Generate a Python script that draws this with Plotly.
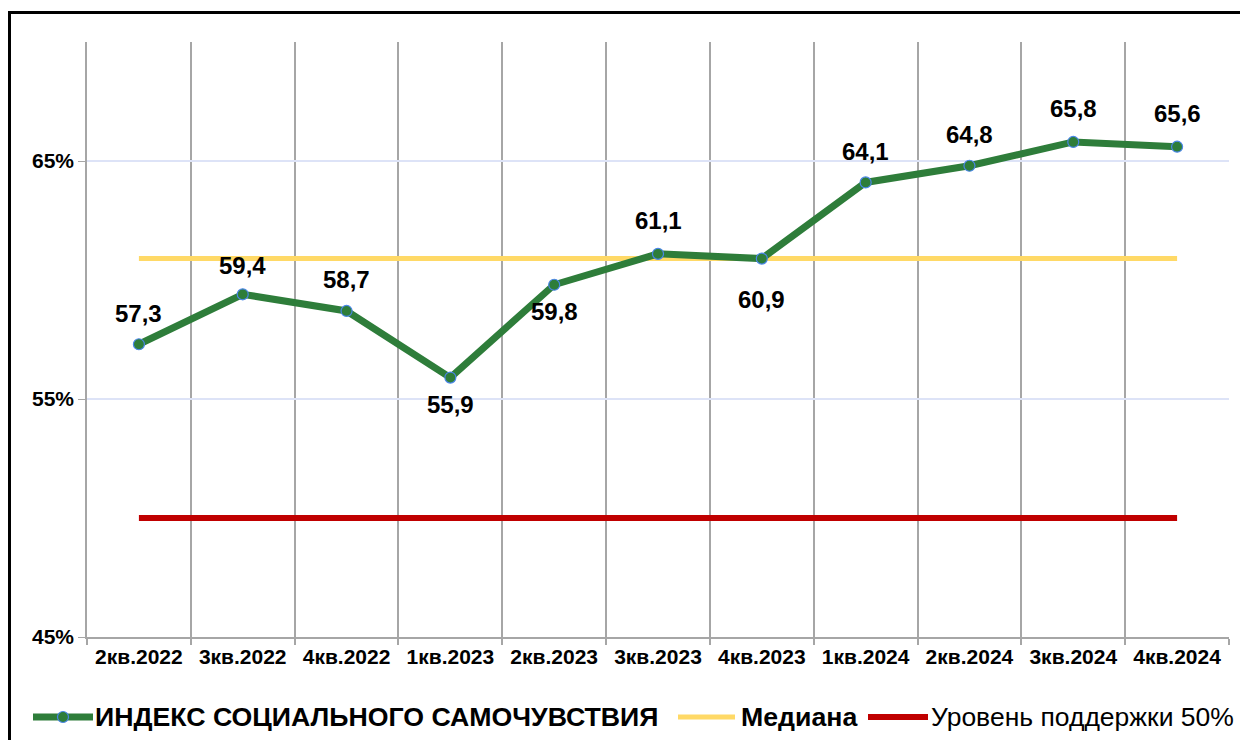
import plotly.graph_objects as go

categories = ["2кв.2022", "3кв.2022", "4кв.2022", "1кв.2023", "2кв.2023", "3кв.2023",
              "4кв.2023", "1кв.2024", "2кв.2024", "3кв.2024", "4кв.2024"]
index_values = [57.3, 59.4, 58.7, 55.9, 59.8, 61.1, 60.9, 64.1, 64.8, 65.8, 65.6]
median_value = 60.9
support_value = 50
y_ticks = [45, 55, 65]
y_tick_labels = ["45%", "55%", "65%"]
series_names = ["ИНДЕКС СОЦИАЛЬНОГО САМОЧУВСТВИЯ", "Медиана", "Уровень поддержки 50%"]

# style: vertical pixel shift for each data label (negative = above)
label_shift = [-31, -29, -31, 27, 27, -33, 41, -31, -31, -33, -33]

OFF = 8  # page body margin
W, H = 1248 - OFF, 740 - OFF
L, R, T, B = 87 - OFF, 1248 - 1229, 42 - OFF, 740 - 637
pw, ph = W - L - R, H - T - B

FONT = "Arial, Liberation Sans, sans-serif"
GREEN, YELLOW, RED, RING = "#2E7D3A", "#FFD966", "#C00000", "#4A86E8"

fig = go.Figure()
fig.add_trace(go.Scatter(
    x=categories, y=[median_value] * len(categories), mode="lines",
    name=series_names[1], line=dict(color=YELLOW, width=5), hoverinfo="skip"))
fig.add_trace(go.Scatter(
    x=categories, y=[support_value] * len(categories), mode="lines",
    name=series_names[2], line=dict(color=RED, width=6), hoverinfo="skip"))
fig.add_trace(go.Scatter(
    x=categories, y=index_values, mode="lines+markers", name=series_names[0],
    line=dict(color=GREEN, width=7),
    marker=dict(size=11, color=GREEN, line=dict(color=RING, width=1.2))))

for c, v, s in zip(categories, index_values, label_shift):
    fig.add_annotation(x=c, y=v, text=f"<b>{str(v).replace('.', ',')}</b>",
                       showarrow=False, yshift=-s, yanchor="middle",
                       font=dict(family=FONT, size=24, color="black"))

def px_x(p):
    return (p - OFF - L) / pw

def px_y(p):
    return (H - B - (p - OFF)) / ph

# stronger gridline at the top tick
fig.add_shape(type="line", xref="paper", yref="y", layer="between",
              x0=0, x1=1, y0=y_ticks[-1], y1=y_ticks[-1],
              line=dict(color="#A9C4F0", width=1.5))

# outer frame
fig.add_shape(type="rect", xref="paper", yref="paper",
              x0=px_x(9.5), x1=px_x(1252), y0=px_y(12.5), y1=px_y(745),
              line=dict(color="black", width=3), fillcolor="rgba(0,0,0,0)")

# legend (drawn by hand for exact spacing)
LEG_Y = 717
legend_items = [
    (series_names[0], True, GREEN, 7, 33, 93, 93),
    (series_names[1], True, YELLOW, 5, 678, 735, 739),
    (series_names[2], False, RED, 6, 868, 928, 929),
]
for name, bold, color, width, s0, s1, tx in legend_items:
    fig.add_shape(type="line", xref="paper", yref="paper",
                  x0=px_x(s0), x1=px_x(s1), y0=px_y(LEG_Y), y1=px_y(LEG_Y),
                  line=dict(color=color, width=width))
    fig.add_annotation(xref="paper", yref="paper", x=px_x(tx), y=px_y(LEG_Y),
                       xanchor="left", yanchor="middle", showarrow=False,
                       text=f"<b>{name}</b>" if bold else name,
                       font=dict(family=FONT, size=26.7 if bold else 26.5, color="black"))
fig.add_shape(type="circle", xref="paper", yref="paper",
              xsizemode="pixel", ysizemode="pixel",
              xanchor=px_x(63), yanchor=px_y(LEG_Y), x0=-5.5, x1=5.5, y0=-5.5, y1=5.5,
              line=dict(color=RING, width=1.2), fillcolor=GREEN)

fig.update_layout(
    width=W, height=H,
    margin=dict(l=L, r=R, t=T, b=B, autoexpand=False),
    paper_bgcolor="white", plot_bgcolor="white",
    showlegend=False,
    font=dict(family=FONT, color="black"),
)
fig.update_xaxes(
    type="category", tickson="boundaries", showgrid=True, gridcolor="#A6A6A6", gridwidth=1.5,
    ticks="outside", ticklen=6, tickcolor="#A6A6A6", tickwidth=1.5,
    showline=True, linecolor="#A6A6A6", linewidth=1.5,
    tickvals=categories, ticktext=[f"<b>{c}</b>" for c in categories],
    tickfont=dict(family=FONT, size=21, color="black"),
    range=[-0.5, len(categories) - 0.5])
fig.update_yaxes(
    range=[45, 70], tickvals=y_ticks, ticktext=[f"<b>{t}</b>" for t in y_tick_labels],
    showgrid=True, gridcolor="#DDE3F7", gridwidth=1.5,
    ticks="outside", ticklen=7, tickcolor="#A6A6A6",
    showline=True, linecolor="#A6A6A6", linewidth=1.5, zeroline=False,
    tickfont=dict(family=FONT, size=21, color="black"))

fig.write_html("out.html")
